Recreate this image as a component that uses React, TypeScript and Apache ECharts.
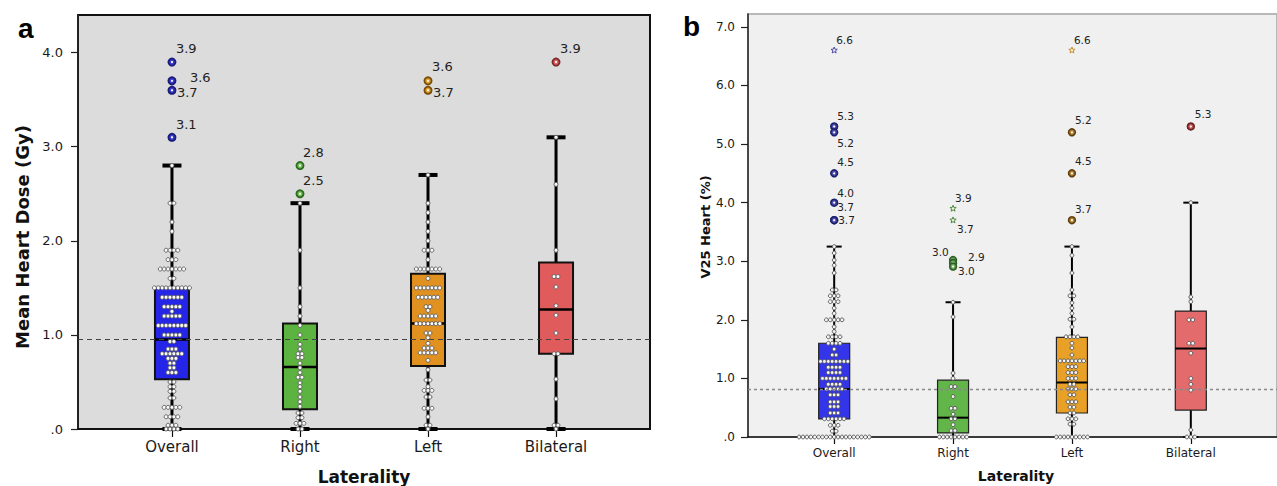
import React, { useEffect, useRef } from "react";
import * as echarts from "echarts";

const categories = ["Overall", "Right", "Left", "Bilateral"];
const categoryTicks = [0, 1, 2, 3];

// ---------- Panel a: Mean Heart Dose (Gy) ----------
const aYTicks = [0, 1, 2, 3, 4];
const aReference = 0.95;
// [category, whiskerLow, q1, median, q3, whiskerHigh]
const aBoxes = [
  [0, 0, 0.53, 0.95, 1.5, 2.8],
  [1, 0, 0.21, 0.66, 1.12, 2.4],
  [2, 0, 0.67, 1.12, 1.65, 2.7],
  [3, 0, 0.8, 1.27, 1.77, 3.1],
];
// [category, value]
const aOutliers = [
  [0, 3.9], [0, 3.7], [0, 3.6], [0, 3.1],
  [1, 2.8], [1, 2.5],
  [2, 3.7], [2, 3.6],
  [3, 3.9],
];
// dot rows: [value, count]
const aOverallDots = [
  [2.8, 1], [2.4, 2], [2.2, 1], [2.1, 1], [1.9, 4], [1.8, 3], [1.7, 7], [1.6, 2], [1.5, 10],
  [1.4, 6], [1.3, 5], [1.25, 1], [1.2, 5], [1.1, 8], [1.0, 5], [0.93, 2], [0.85, 3], [0.8, 6],
  [0.75, 3], [0.7, 2], [0.65, 2], [0.6, 3], [0.5, 2], [0.45, 2], [0.4, 2], [0.33, 2],
  [0.23, 5], [0.13, 4], [0.04, 3], [0, 4],
];
const aRightDots = [
  [2.4, 1], [1.9, 1], [1.5, 1], [1.3, 1], [1.2, 1], [1.1, 1], [1.0, 1], [0.9, 1], [0.85, 1],
  [0.8, 2], [0.76, 2], [0.7, 1], [0.65, 1], [0.6, 1], [0.55, 2], [0.49, 1], [0.45, 1], [0.4, 1],
  [0.34, 1], [0.29, 1], [0.24, 1], [0.17, 2], [0.12, 2], [0.06, 3], [0, 2],
];
const aLeftDots = [
  [2.7, 1], [2.4, 1], [2.3, 1], [2.2, 1], [2.1, 1], [2.0, 1], [1.9, 3], [1.8, 1], [1.7, 7],
  [1.6, 1], [1.5, 7], [1.4, 6], [1.3, 2], [1.26, 1], [1.2, 5], [1.12, 7], [1.02, 2], [0.97, 1],
  [0.91, 1], [0.86, 3], [0.81, 5], [0.73, 1], [0.63, 1], [0.52, 2], [0.45, 1], [0.41, 3],
  [0.34, 2], [0.22, 3], [0.13, 1], [0.04, 2], [0, 1],
];
const aBilateralDots = [
  [3.1, 1], [2.6, 1], [1.9, 1], [1.62, 2], [1.51, 1], [1.31, 1], [1.21, 1], [1.02, 1],
  [0.8, 2], [0.53, 1], [0.32, 1], [0.04, 2], [0, 1],
];

// ---------- Panel b: V25 Heart (%) ----------
const bYTicks = [0, 1, 2, 3, 4, 5, 6, 7];
const bReference = 0.82;
const bBoxes = [
  [0, 0, 0.31, 0.82, 1.6, 3.25],
  [1, 0, 0.07, 0.33, 0.97, 2.3],
  [2, 0, 0.41, 0.93, 1.7, 3.25],
  [3, 0, 0.46, 1.51, 2.15, 4.0],
];
const bOutliers = [
  [0, 6.6], [0, 5.3], [0, 5.2], [0, 4.5], [0, 4.0], [0, 3.7], [0, 3.7],
  [1, 3.9], [1, 3.7], [1, 3.02], [1, 2.97], [1, 2.91],
  [2, 6.6], [2, 5.2], [2, 4.5], [2, 3.7],
  [3, 5.3],
];
// 1 = extreme (star), 0 = outlier (circle)
const bOutlierExtreme = [1, 0, 0, 0, 0, 0, 0, 1, 1, 0, 0, 0, 1, 0, 0, 0, 0];
const bOverallDots = [
  [3.25, 1], [3.14, 1], [3.02, 1], [2.93, 1], [2.8, 1], [2.51, 2], [2.41, 3], [2.31, 3],
  [2.2, 1], [2.11, 1], [2.0, 5], [1.88, 1], [1.8, 1], [1.71, 4], [1.6, 4], [1.5, 1], [1.4, 2],
  [1.29, 8], [1.19, 4], [1.1, 4], [1.0, 7], [0.9, 4], [0.82, 5], [0.72, 3], [0.6, 3],
  [0.52, 3], [0.41, 3], [0.31, 6], [0.2, 3], [0.1, 2], [0, 19],
];
const bRightDots = [
  [2.3, 1], [2.05, 1], [1.09, 1], [1.0, 1], [0.86, 2], [0.69, 1], [0.49, 2], [0.39, 1],
  [0.31, 2], [0.21, 1], [0.11, 2], [0, 8],
];
const bLeftDots = [
  [3.25, 1], [3.1, 1], [2.8, 1], [2.51, 1], [2.41, 2], [2.29, 1], [2.2, 1], [2.11, 1],
  [2.01, 2], [1.88, 1], [1.71, 4], [1.6, 1], [1.52, 1], [1.4, 1], [1.3, 7], [1.2, 3],
  [1.1, 3], [1.0, 3], [0.9, 2], [0.82, 3], [0.72, 2], [0.6, 3], [0.51, 2], [0.41, 2],
  [0.31, 3], [0.22, 2], [0, 9],
];
const bBilateralDots = [
  [4.0, 1], [2.39, 1], [2.31, 1], [2.0, 2], [1.6, 2], [1.43, 1], [1.0, 1], [0.9, 1],
  [0.8, 1], [0.12, 1], [0, 3],
];

// ---------- layout / style (not data) ----------
const aLabelOffsets = [
  [4, -14], [5, 12], [18, -13], [4, -13],
  [3, -13], [3, -13],
  [5, 12], [4, -24],
  [4, -14],
];
const bLabelOffsets = [
  [2, -10], [3, -10], [3, 11], [3, -11], [3, -10], [3, -13], [4, 0],
  [2, -11], [4, 9], [-21, -8], [5, 8], [15, -10],
  [2, -10], [3, -12], [3, -12], [3, -11],
  [4, -12],
];
const aBoxFill = ["#2525ea", "#5db33f", "#e0911f", "#e05c5c"];
const bBoxFill = ["#3434e8", "#62b548", "#e8a126", "#e36b6b"];
const aOutStroke = ["#1b1b78", "#2f6a23", "#7a4d0a", "#7a2a2a"];
const aOutFill = ["#3a3ad0", "#6fbf50", "#e0a030", "#e06060"];
const bOutStroke = ["#1c2068", "#2e5e28", "#5e3e0c", "#6a2020"];
const bOutFill = ["#4a4ab0", "#6aa85a", "#b08030", "#c05050"];
const bStarStroke = ["#4b4bb0", "#4e8a40", "#c8902a", "#c05050"];

const FONT = "DejaVu Sans";

const toRows = (cat: number, rows: number[][]) => rows.map((r) => [cat, r[0], r[1]]);

function boxRender(cfg: any) {
  return (params: any, api: any) => {
    const cat = api.value(0);
    const pLo = api.coord([cat, api.value(1)]);
    const pQ1 = api.coord([cat, api.value(2)]);
    const pMed = api.coord([cat, api.value(3)]);
    const pQ3 = api.coord([cat, api.value(4)]);
    const pHi = api.coord([cat, api.value(5)]);
    const cx = pMed[0];
    const w = cfg.boxWidth;
    const cw = cfg.capWidth / 2;
    const ws = { stroke: "#000", lineWidth: cfg.whiskerWidth };
    const cs = { stroke: "#000", lineWidth: cfg.capLineWidth };
    return {
      type: "group",
      children: [
        { type: "line", shape: { x1: cx, y1: pHi[1], x2: cx, y2: pQ3[1] }, style: ws },
        { type: "line", shape: { x1: cx, y1: pQ1[1], x2: cx, y2: pLo[1] }, style: ws },
        { type: "line", shape: { x1: cx - cw, y1: pHi[1], x2: cx + cw, y2: pHi[1] }, style: cs },
        { type: "line", shape: { x1: cx - cw, y1: pLo[1], x2: cx + cw, y2: pLo[1] }, style: cs },
        {
          type: "rect",
          shape: { x: cx - w / 2, y: pQ3[1], width: w, height: pQ1[1] - pQ3[1] },
          style: { fill: cfg.fills[cat], stroke: cfg.boxStroke, lineWidth: cfg.boxLineWidth },
        },
        {
          type: "line",
          shape: { x1: cx - w / 2, y1: pMed[1], x2: cx + w / 2, y2: pMed[1] },
          style: { stroke: "#000", lineWidth: cfg.medianWidth },
        },
      ],
    };
  };
}

function dotRender(cfg: any) {
  return (params: any, api: any) => {
    const cat = api.value(0);
    const v = api.value(1);
    const n = api.value(2);
    const p = api.coord([cat, v]);
    const children: any[] = [];
    for (let j = 0; j < n; j++) {
      const x = p[0] + (j - (n - 1) / 2) * cfg.spacing;
      children.push({
        type: "circle",
        shape: { cx: x, cy: p[1], r: cfg.r },
        style: { fill: cfg.fill, stroke: cfg.stroke, lineWidth: cfg.lineWidth },
      });
    }
    return { type: "group", children };
  };
}

function outlierRender(cfg: any) {
  return (params: any, api: any) => {
    const i = params.dataIndex;
    const cat = api.value(0);
    const v = api.value(1);
    const p = api.coord([cat, v]);
    const extreme = cfg.extreme ? cfg.extreme[i] : 0;
    const off = cfg.offsets[i];
    const children: any[] = [];
    if (extreme) {
      const pts: number[][] = [];
      for (let k = 0; k < 10; k++) {
        const a = -Math.PI / 2 + (k * Math.PI) / 5;
        const rr = k % 2 === 0 ? 3.3 : 1.4;
        pts.push([p[0] + rr * Math.cos(a), p[1] + rr * Math.sin(a)]);
      }
      children.push({
        type: "polygon",
        shape: { points: pts },
        style: { fill: "#f4f0e0", stroke: cfg.starStroke[cat], lineWidth: 1 },
      });
    } else {
      children.push({
        type: "circle",
        shape: { cx: p[0], cy: p[1], r: cfg.r },
        style: { fill: cfg.fills[cat], stroke: cfg.strokes[cat], lineWidth: cfg.lw },
      });
      children.push({
        type: "circle",
        shape: { cx: p[0], cy: p[1], r: 1.1 },
        style: { fill: "#ffffff" },
      });
    }
    children.push({
      type: "text",
      x: p[0] + off[0],
      y: p[1] + off[1],
      style: {
        text: v.toFixed(1),
        fill: "#222",
        font: `${cfg.fontSize}px "${FONT}"`,
        align: "left",
        verticalAlign: "middle",
      },
    });
    return { type: "group", children };
  };
}

const fmtTick = (v: number) => (v === 0 ? ".0" : v.toFixed(1));

export default function App() {
  const ref = useRef<HTMLDivElement>(null);

  useEffect(() => {
    if (!ref.current) return;
    const chart = echarts.init(ref.current, undefined, { renderer: "svg" });

    const aDots = [
      ...toRows(0, aOverallDots),
      ...toRows(1, aRightDots),
      ...toRows(2, aLeftDots),
      ...toRows(3, aBilateralDots),
    ];
    const bDots = [
      ...toRows(0, bOverallDots),
      ...toRows(1, bRightDots),
      ...toRows(2, bLeftDots),
      ...toRows(3, bBilateralDots),
    ];

    const xAxisBase = (gi: number, min: number, max: number, fontSize: number, lineW: number, tickLen: number) => ({
      type: "value",
      gridIndex: gi,
      min,
      max,
      axisLine: { show: true, onZero: false, lineStyle: { color: "#111", width: lineW } },
      axisTick: { show: true, customValues: categoryTicks, length: tickLen, lineStyle: { color: "#111", width: 1.2 } },
      axisLabel: {
        show: true,
        customValues: categoryTicks,
        formatter: (v: number) => categories[Math.round(v)] ?? "",
        color: "#1a1a1a",
        fontSize,
        fontFamily: FONT,
        margin: 10,
      },
      splitLine: { show: false },
    });

    const yAxisBase = (gi: number, max: number, ticks: number[], fontSize: number, lineW: number, margin: number) => ({
      type: "value",
      gridIndex: gi,
      min: 0,
      max,
      axisLine: { show: true, onZero: false, lineStyle: { color: "#222", width: lineW } },
      axisTick: { show: true, customValues: ticks, length: 7, lineStyle: { color: "#222", width: 1.2 } },
      axisLabel: {
        show: true,
        customValues: ticks,
        formatter: fmtTick,
        color: "#1a1a1a",
        fontSize,
        fontFamily: FONT,
        margin,
      },
      splitLine: { show: false },
    });

    const option: any = {
      animation: false,
      textStyle: { fontFamily: FONT },
      grid: [
        {
          left: 78, top: 15, width: 572, height: 414,
          show: true, backgroundColor: "#dcdcdc", borderColor: "#111", borderWidth: 2,
        },
        {
          left: 748, top: 14, width: 540, height: 423,
          show: true, backgroundColor: "#f0f0f0", borderColor: "#b8b8b8", borderWidth: 2,
        },
      ],
      xAxis: [xAxisBase(0, -0.734, 3.734, 15, 2, 8), xAxisBase(1, -0.725, 3.725, 12, 1.5, 7)],
      yAxis: [yAxisBase(0, 4.4, aYTicks, 13, 2, 15), yAxisBase(1, 7.22, bYTicks, 12, 1.5, 13)],
      series: [
        {
          type: "custom",
          xAxisIndex: 0,
          yAxisIndex: 0,
          z: 2,
          data: aBoxes,
          encode: { x: 0, y: [1, 2, 3, 4, 5] },
          renderItem: boxRender({
            boxWidth: 34, capWidth: 19, whiskerWidth: 3, capLineWidth: 4,
            fills: aBoxFill, boxStroke: "#111", boxLineWidth: 2, medianWidth: 2.5,
          }),
        },
        {
          type: "line",
          xAxisIndex: 0,
          yAxisIndex: 0,
          z: 3,
          data: [],
          markLine: {
            silent: true,
            symbol: ["none", "none"],
            label: { show: false },
            lineStyle: { color: "#444", type: [5, 4], width: 1 },
            data: [{ yAxis: aReference }],
          },
        },
        {
          type: "custom",
          xAxisIndex: 0,
          yAxisIndex: 0,
          z: 4,
          data: aDots,
          encode: { x: 0, y: 1 },
          renderItem: dotRender({ spacing: 3.9, r: 2, fill: "#fafafa", stroke: "#5a5a5a", lineWidth: 0.9 }),
        },
        {
          type: "custom",
          xAxisIndex: 0,
          yAxisIndex: 0,
          z: 5,
          data: aOutliers,
          encode: { x: 0, y: 1 },
          renderItem: outlierRender({
            offsets: aLabelOffsets, fills: aOutFill, strokes: aOutStroke, r: 3.6, lw: 1.8, fontSize: 13,
            starStroke: bStarStroke,
          }),
        },
        {
          type: "custom",
          xAxisIndex: 1,
          yAxisIndex: 1,
          z: 2,
          data: bBoxes,
          encode: { x: 0, y: [1, 2, 3, 4, 5] },
          renderItem: boxRender({
            boxWidth: 31, capWidth: 15, whiskerWidth: 2, capLineWidth: 2,
            fills: bBoxFill, boxStroke: "#222", boxLineWidth: 1.2, medianWidth: 2,
          }),
        },
        {
          type: "line",
          xAxisIndex: 1,
          yAxisIndex: 1,
          z: 3,
          data: [],
          markLine: {
            silent: true,
            symbol: ["none", "none"],
            label: { show: false },
            lineStyle: { color: "#888", type: [3, 3], width: 1.3 },
            data: [{ yAxis: bReference }],
          },
        },
        {
          type: "custom",
          xAxisIndex: 1,
          yAxisIndex: 1,
          z: 4,
          data: bDots,
          encode: { x: 0, y: 1 },
          renderItem: dotRender({ spacing: 3.9, r: 1.9, fill: "#f4f4f4", stroke: "#505050", lineWidth: 0.9 }),
        },
        {
          type: "custom",
          xAxisIndex: 1,
          yAxisIndex: 1,
          z: 5,
          data: bOutliers,
          encode: { x: 0, y: 1 },
          renderItem: outlierRender({
            offsets: bLabelOffsets, fills: bOutFill, strokes: bOutStroke, r: 3.4, lw: 1.6, fontSize: 10.5,
            extreme: bOutlierExtreme, starStroke: bStarStroke,
          }),
        },
      ],
      graphic: [
        {
          type: "text", left: 18, top: 14,
          style: { text: "a", font: 'bold 28px "Liberation Sans"', fill: "#000" },
        },
        {
          type: "text", left: 683, top: 12,
          style: { text: "b", font: 'bold 28px "Liberation Sans"', fill: "#000" },
        },
        {
          type: "text", x: 22, y: 237, rotation: Math.PI / 2,
          style: {
            text: "Mean Heart Dose (Gy)", font: `bold 18px "${FONT}"`, fill: "#111",
            align: "center", verticalAlign: "middle",
          },
        },
        {
          type: "text", x: 364, y: 477,
          style: {
            text: "Laterality", font: `bold 17px "${FONT}"`, fill: "#111",
            align: "center", verticalAlign: "middle",
          },
        },
        {
          type: "text", x: 705, y: 227, rotation: Math.PI / 2,
          style: {
            text: "V25 Heart (%)", font: `bold 13px "${FONT}"`, fill: "#111",
            align: "center", verticalAlign: "middle",
          },
        },
        {
          type: "text", x: 1016, y: 476,
          style: {
            text: "Laterality", font: `bold 14px "${FONT}"`, fill: "#111",
            align: "center", verticalAlign: "middle",
          },
        },
      ],
    };

    chart.setOption(option);
    return () => chart.dispose();
  }, []);

  return (
    <div
      ref={ref}
      style={{ position: "fixed", left: 0, top: 0, width: 1277, height: 486, background: "#fff" }}
    />
  );
}
